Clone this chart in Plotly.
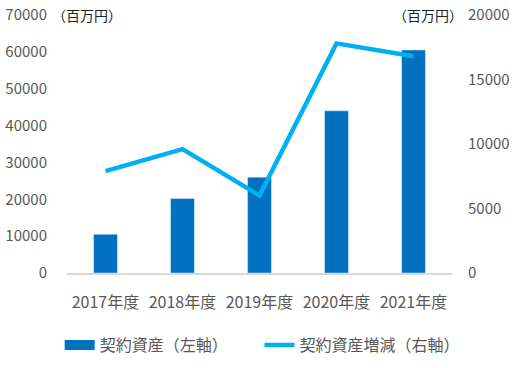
import plotly.graph_objects as go

categories = ["2017年度", "2018年度", "2019年度", "2020年度", "2021年度"]
contract_assets = [10500, 20200, 26000, 44000, 60500]
contract_change = [7900, 9600, 6000, 17800, 16800]
left_ticks = [0, 10000, 20000, 30000, 40000, 50000, 60000, 70000]
right_ticks = [0, 5000, 10000, 15000, 20000]

BAR = "#0070C0"
LINE = "#00B0F0"
GRAY = "#595959"
FONT = "Noto Sans CJK JP"

fig = go.Figure()
fig.add_trace(go.Bar(x=categories, y=contract_assets, marker_color=BAR,
                     width=0.31, showlegend=False, name="契約資産（左軸）"))
fig.add_trace(go.Scatter(x=[None], y=[None], mode="lines",
                         line=dict(color=BAR, width=10), name="契約資産（左軸）",
                         legend="legend"))
fig.add_trace(go.Scatter(x=categories, y=contract_change, mode="lines",
                         line=dict(color=LINE, width=4.5), yaxis="y2",
                         name="契約資産増減（右軸）", legend="legend2"))

fig.update_layout(
    width=517, height=368,
    margin=dict(l=67, r=65, t=15, b=95, autoexpand=False),
    plot_bgcolor="white", paper_bgcolor="white",
    font=dict(family=FONT, color=GRAY, size=15),
    xaxis=dict(showline=True, linecolor="#D9D9D9", linewidth=2,
               tickfont=dict(size=16), ticklabelstandoff=14, showgrid=False),
    yaxis=dict(range=[0, 70000], tickvals=left_ticks,
               ticktext=[str(v) for v in left_ticks], showgrid=False,
               zeroline=False, ticklabelstandoff=19, tickfont=dict(size=15)),
    yaxis2=dict(range=[0, 20000], tickvals=right_ticks,
                ticktext=[str(v) for v in right_ticks], overlaying="y",
                side="right", showgrid=False, zeroline=False,
                ticklabelstandoff=15, tickfont=dict(size=15)),
    legend=dict(x=-0.019, xanchor="left", y=-0.279, yanchor="middle",
                font=dict(size=16), bgcolor="rgba(0,0,0,0)"),
    legend2=dict(x=0.5, xanchor="left", y=-0.279, yanchor="middle",
                 font=dict(size=16), bgcolor="rgba(0,0,0,0)"),
    annotations=[
        dict(text="（百万円）", xref="paper", yref="paper", x=-0.045, y=1.0,
             xanchor="left", yanchor="middle", showarrow=False,
             font=dict(size=14, color="#222222")),
        dict(text="（百万円）", xref="paper", yref="paper", x=1.033, y=1.0,
             xanchor="right", yanchor="middle", showarrow=False,
             font=dict(size=14, color="#222222")),
    ],
)

fig.write_html("out.html", config={"displayModeBar": False},
               post_script="document.body.style.margin='0';")
